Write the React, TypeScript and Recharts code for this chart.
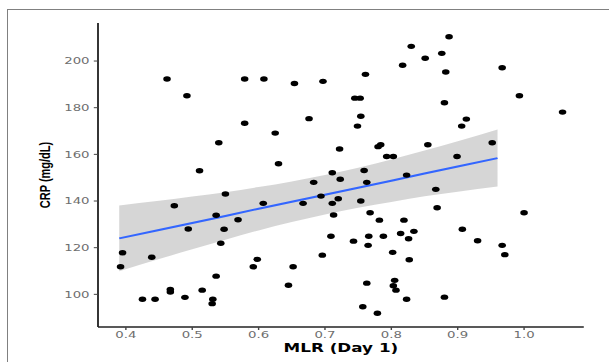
import React from 'react';
import { ComposedChart, Scatter, Area, Line, XAxis, YAxis, Label } from 'recharts';

// MLR (Day 1) vs CRP, one entry per patient
const mlrValues = [
  0.462, 0.492, 0.579, 0.608, 0.654, 0.697, 0.579, 0.625, 0.676, 0.540,
  0.722, 0.511, 0.630, 0.711, 0.723, 0.887, 0.830, 0.876, 0.851, 0.817,
  0.882, 0.761, 0.967, 0.993, 1.058, 0.745, 0.753, 0.880, 0.754, 0.749,
  0.913, 0.906, 0.780, 0.784, 0.855, 0.952, 0.793, 0.803, 0.899, 0.759,
  0.823, 0.683, 0.550, 0.473, 0.607, 0.667, 0.694, 0.711, 0.720, 0.536,
  0.569, 0.494, 0.548, 0.713, 0.709, 0.543, 0.395, 0.439, 0.392, 0.598,
  0.592, 0.696, 0.652, 0.536, 0.645, 0.467, 0.467, 0.515, 0.425, 0.444,
  0.489, 0.531, 0.530, 0.763, 0.754, 0.867, 0.869, 0.768, 1.000, 0.782,
  0.819, 0.907, 0.814, 0.834, 0.766, 0.788, 0.826, 0.743, 0.930, 0.765,
  0.967, 0.802, 0.971, 0.827, 0.805, 0.763, 0.803, 0.807, 0.880, 0.823,
  0.757, 0.779,
];
const crpValues = [
  192.3, 185.1, 192.3, 192.3, 190.4, 191.3, 173.3, 169.1, 175.3, 165.0,
  162.3, 153.0, 156.0, 152.1, 149.3, 210.4, 206.3, 203.3, 201.2, 198.2,
  195.3, 194.3, 197.1, 185.1, 178.1, 184.1, 184.1, 182.1, 176.3, 172.1,
  175.1, 172.1, 163.3, 164.1, 164.1, 165.0, 159.1, 159.1, 159.1, 153.1,
  151.1, 148.0, 143.0, 138.0, 139.0, 139.0, 142.1, 139.0, 141.0, 133.9,
  132.0, 128.0, 127.9, 134.0, 124.9, 121.9, 117.8, 115.9, 111.8, 115.0,
  111.8, 116.8, 111.8, 107.8, 103.9, 102.1, 101.0, 101.8, 97.9, 97.9,
  98.7, 97.9, 96.0, 148.0, 140.0, 145.0, 137.1, 135.0, 135.0, 131.8,
  131.8, 127.9, 126.1, 127.0, 124.9, 124.9, 123.8, 122.8, 123.0, 121.0,
  121.0, 118.0, 117.0, 114.8, 106.0, 104.8, 103.7, 101.8, 98.8, 97.9,
  94.7, 91.9,
];

// linear fit with 95% band
const fitX = [0.39, 0.45, 0.5, 0.55, 0.6, 0.65, 0.7, 0.75, 0.8, 0.85, 0.9, 0.96];
const fitY = [124.0, 127.6, 130.6, 133.6, 136.7, 139.7, 142.7, 145.7, 148.7, 151.8, 154.8, 158.4];
const fitLower = [109.9, 115.1, 119.3, 123.4, 127.4, 131.0, 134.2, 137.1, 139.6, 142.0, 144.0, 146.2];
const fitUpper = [138.1, 140.1, 141.9, 143.8, 146.0, 148.4, 151.2, 154.3, 157.8, 161.6, 165.6, 170.6];

const xTicks = [0.4, 0.5, 0.6, 0.7, 0.8, 0.9, 1.0];
const yTicks = [100, 120, 140, 160, 180, 200];

const points = mlrValues.map((x, i) => ({ x, y: crpValues[i] }));
const fitRows = fitX.map((x, i) => ({ x, fit: fitY[i], band: [fitLower[i], fitUpper[i]] }));

// the reference is stretched horizontally, so draw narrow and scale up
const STRETCH = 1.4;
const W = 435;
const H = 362;

const tickStyle = { fill: '#6e6e6e', fontSize: 9.5, fontFamily: 'DejaVu Sans' };

const Dot = (props: any) => <circle cx={props.cx} cy={props.cy} r={2.7} fill="#000" />;

export default function App() {
  return (
    <div style={{ position: 'fixed', left: 0, top: 0, width: 609, height: 362, background: '#fff', overflow: 'hidden' }}>
      <div style={{ position: 'absolute', left: 7, top: 9, width: 700, height: 400, borderTop: '1px solid #808080', borderLeft: '1px solid #808080' }} />
      <div style={{ position: 'absolute', left: 0, top: 0, transform: `scaleX(${STRETCH})`, transformOrigin: '0 0' }}>
        <ComposedChart width={W} height={H} data={fitRows} margin={{ top: 23, right: 18, bottom: 0, left: 0 }}>
          <XAxis
            dataKey="x"
            type="number"
            domain={[0.358, 1.09]}
            ticks={xTicks}
            tickFormatter={(v: number) => v.toFixed(1)}
            height={35}
            tickSize={3}
            tickMargin={1.5}
            tick={tickStyle}
            axisLine={{ stroke: '#222', strokeWidth: 1.3 }}
            tickLine={{ stroke: '#444' }}
            allowDataOverflow
          >
            <Label value="MLR (Day 1)" position="insideBottom" offset={10}
              style={{ fill: '#000', fontSize: 12, fontWeight: 'bold', fontFamily: 'DejaVu Sans' }} />
          </XAxis>
          <YAxis
            type="number"
            domain={[86, 216.3]}
            ticks={yTicks}
            width={70}
            tickSize={3}
            tickMargin={3}
            tick={tickStyle}
            axisLine={{ stroke: '#222', strokeWidth: 1.3 }}
            tickLine={{ stroke: '#444' }}
            allowDataOverflow
          >
            <Label value="CRP (mg/dL)" angle={-90} position="insideLeft" offset={32}
              style={{ fill: '#000', fontSize: 11, fontWeight: 'bold', fontFamily: 'Liberation Sans', textAnchor: 'middle' }} />
          </YAxis>
          <Scatter data={points} dataKey="y" shape={Dot} isAnimationActive={false} />
          <Area dataKey="band" type="monotone" fill="#999999" fillOpacity={0.4} stroke="none" activeDot={false} isAnimationActive={false} />
          <Line dataKey="fit" type="linear" stroke="#3366FF" strokeWidth={2} dot={false} activeDot={false} isAnimationActive={false} />
        </ComposedChart>
      </div>
    </div>
  );
}
